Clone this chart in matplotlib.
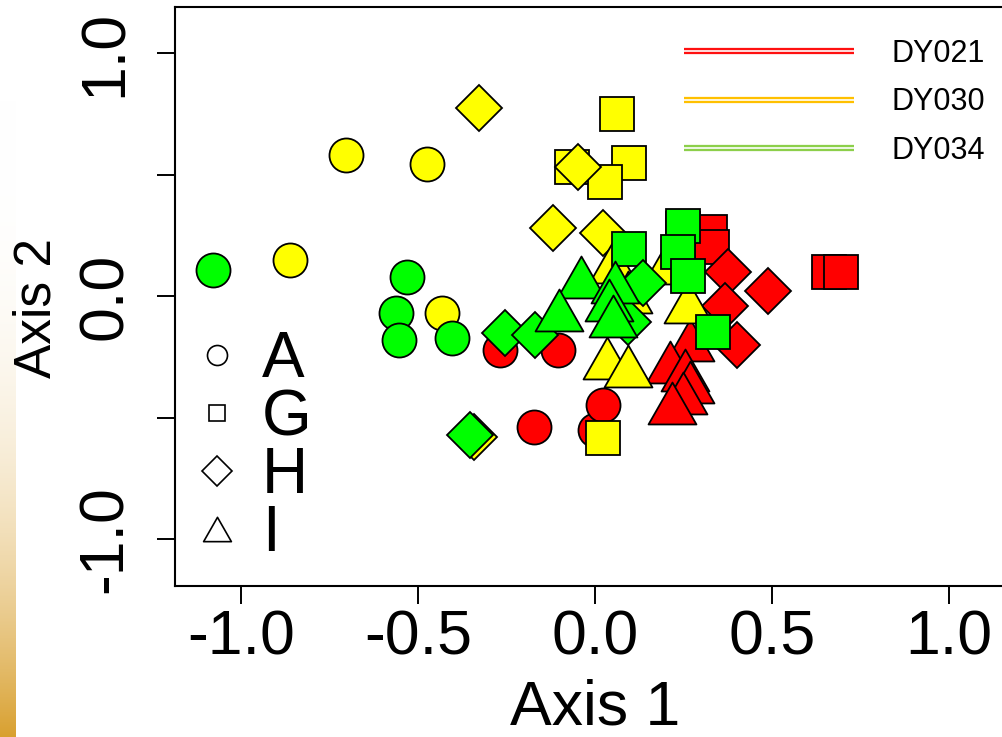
import numpy as np
import matplotlib
matplotlib.use("Agg")
import matplotlib.pyplot as plt
import matplotlib.patheffects as pe
from matplotlib.lines import Line2D
from matplotlib.path import Path

plt.rcParams['font.family'] = ['Liberation Sans', 'DejaVu Sans']

# ---------------------------------------------------------------
# Data, one entry per sample
# ---------------------------------------------------------------
lines_ = ['DY021', 'DY030', 'DY034']
groups = ['A', 'G', 'H', 'I']

axis1 = [
    # DY021
    -0.268, -0.105, -0.172, 0.000, 0.023,
    0.249, 0.325, 0.331, 0.661, 0.695,
    0.376, 0.489, 0.367, 0.401,
    0.268, 0.212, 0.254, 0.268, 0.249, 0.218,
    # DY030
    -0.862, -0.703, -0.475, -0.432,
    0.062, 0.096, -0.065, 0.028, 0.023,
    -0.328, -0.048, -0.119, 0.023, -0.342,
    0.051, 0.093, 0.203, 0.263, 0.034, 0.093,
    # DY034
    -1.079, -0.531, -0.562, -0.554, -0.404,
    0.096, 0.249, 0.234, 0.263, 0.333,
    -0.254, -0.169, 0.136, 0.093, -0.353,
    -0.040, -0.102, 0.056, 0.040, 0.051,
]
axis2 = [
    -0.222, -0.222, -0.539, -0.551, -0.449,
    0.276, 0.263, 0.202, 0.099, 0.099,
    0.099, 0.021, -0.041, -0.202,
    -0.181, -0.272, -0.305, -0.354, -0.399, -0.440,
    0.148, 0.580, 0.543, -0.070,
    0.749, 0.547, 0.531, 0.469, -0.584,
    0.774, 0.531, 0.280, 0.259, -0.580,
    0.140, 0.016, 0.136, -0.025, -0.255, -0.288,
    0.107, 0.078, -0.070, -0.181, -0.173,
    0.193, 0.288, 0.181, 0.082, -0.148,
    -0.152, -0.160, 0.053, -0.107, -0.572,
    0.078, -0.058, 0.058, -0.016, -0.082,
]
line_of = (['DY021'] * 20) + (['DY030'] * 20) + (['DY034'] * 20)
group_of = (['A'] * 5 + ['G'] * 5 + ['H'] * 4 + ['I'] * 6
            + ['A'] * 4 + ['G'] * 5 + ['H'] * 5 + ['I'] * 6
            + ['A'] * 5 + ['G'] * 5 + ['H'] * 5 + ['I'] * 5)

# ---------------------------------------------------------------
# Styles
# ---------------------------------------------------------------
fill_colors = {'DY021': '#FF0000', 'DY030': '#FFFF00', 'DY034': '#00FF00'}
legend_colors = {'DY021': '#FF1010', 'DY030': '#FFC000', 'DY034': '#8CCF4A'}
tri = Path([(-1, -0.875), (1, -0.875), (0, 0.875), (-1, -0.875)], closed=True)
markers = {'A': 'o', 'G': 's', 'H': 'D', 'I': tri}
msizes = {'A': 24.5, 'G': 23.8, 'H': 23.8, 'I': 34.5}

fig = plt.figure(figsize=(10.02, 7.37), dpi=100)

# orange gradient strip on the left edge
strip = fig.add_axes([0, 0, 16 / 1002, 637 / 737])
t = np.linspace(0, 1, 256)[:, None] ** 2.8
white = np.array([1.0, 1.0, 1.0])
orange = np.array([0.85, 0.63, 0.19])
grad = white * (1 - t[..., None]) + orange * t[..., None]
grad = np.repeat(grad, 4, axis=1)
strip.imshow(grad, aspect='auto', origin='upper')
strip.axis('off')

ax = fig.add_axes([175 / 1002, 151 / 737, 841 / 1002, 579 / 737])

x = np.array(axis1)
y = np.array(axis2)
ln = np.array(line_of)
gr = np.array(group_of)

for l in lines_:
    for g in groups:
        m = (ln == l) & (gr == g)
        ax.plot(x[m], y[m], ls='none', marker=markers[g], ms=msizes[g],
                mfc=fill_colors[l], mec='black', mew=1.3)

ax.set_xlim(-1.187, 1.19)
ax.set_ylim(-1.192, 1.19)
ax.set_xticks([-1.0, -0.5, 0.0, 0.5, 1.0])
ax.set_xticklabels(['-1.0', '-0.5', '0.0', '0.5', '1.0'])
ax.set_yticks([-1.0, -0.5, 0.0, 0.5, 1.0])
ax.set_yticklabels(['-1.0', '', '0.0', '', '1.0'])
for lab in ax.get_yticklabels():
    lab.set_rotation(90)
    lab.set_va('center')
ax.tick_params(axis='both', length=13, width=1.4, labelsize=45)
ax.tick_params(axis='x', pad=3)
ax.tick_params(axis='y', pad=16)
for s in ax.spines.values():
    s.set_linewidth(1.5)

ax.set_xlabel('Axis 1', fontsize=45, labelpad=8)
ax.set_ylabel('Axis 2', fontsize=37)
ax.yaxis.set_label_coords(-0.135, 0.48)

# line legend (top right), drawn as double lines
line_handles = []
for l in lines_:
    h = Line2D([], [], color='white', lw=1.2, solid_capstyle='butt',
               path_effects=[pe.Stroke(linewidth=4.5, foreground=legend_colors[l], capstyle='butt'),
                             pe.Normal()])
    line_handles.append(h)
leg1 = ax.legend(line_handles, lines_, loc='upper left',
                 bbox_to_anchor=(684 / 1002, 1 - 39 / 737), bbox_transform=fig.transFigure,
                 frameon=False, fontsize=22, handlelength=5.55, handletextpad=1.25,
                 labelspacing=0.6, borderpad=0, borderaxespad=0)
ax.add_artist(leg1)

# shape legend (lower left)
shape_handles = [
    Line2D([], [], ls='none', marker='o', ms=14.4, mfc='none', mec='black', mew=1.2),
    Line2D([], [], ls='none', marker='s', ms=12.2, mfc='none', mec='black', mew=1.2),
    Line2D([], [], ls='none', marker='D', ms=15.3, mfc='none', mec='black', mew=1.2),
    Line2D([], [], ls='none', marker=tri, ms=20.0, mfc='none', mec='black', mew=1.2),
]
leg2 = ax.legend(shape_handles, groups, loc='upper left',
                 bbox_to_anchor=(198 / 1002, 1 - 330 / 737), bbox_transform=fig.transFigure,
                 frameon=False, fontsize=46, handlelength=0.6, handletextpad=0.4,
                 labelspacing=-0.03, borderpad=0, borderaxespad=0)

fig.savefig('out.png', dpi=100)
